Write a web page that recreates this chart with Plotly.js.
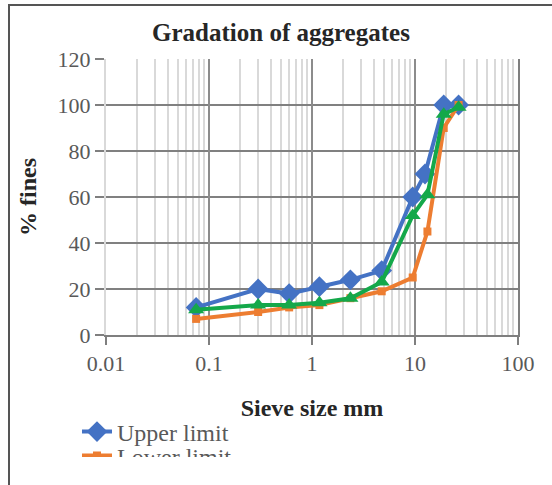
<!DOCTYPE html>
<html>
<head>
<meta charset="utf-8">
<script src="https://cdn.plot.ly/plotly-3.0.1.min.js"></script>
<style>
  html, body { margin: 0; padding: 0; background: #fff; }
  #chart { position: absolute; left: 0; top: 0; width: 552px; height: 485px; }
  #cover { position: absolute; left: 0; top: 457px; width: 552px; height: 28px; background: #fff; z-index: 4; }
  #frame { position: absolute; left: 8px; top: 4px; width: 560px; height: 479px;
           border-left: 2px solid #555; border-top: 2px solid #555; pointer-events: none; z-index: 5; }
</style>
</head>
<body>
<div id="chart"></div>
<div id="cover"></div>
<div id="frame"></div>
<script>
// Sieve sizes (mm)
const sieveUpper = [0.075, 0.3, 0.6, 1.18, 2.36, 4.75, 9.5, 12.5, 19, 26.5];
const sieveOther = [0.075, 0.3, 0.6, 1.18, 2.36, 4.75, 9.5, 13.2, 19, 26.5];
// % passing
const upperLimit = [12, 20, 18, 21, 24, 28, 60, 70, 100, 100];
const lowerLimit = [7, 10, 12, 13, 16, 19, 25, 45, 90, 100];
const combined   = [11, 13, 13, 14, 16, 23, 52, 61, 96, 99];
const seriesNames = ["Upper limit", "Lower limit", "Combined grading"];
// Axis ticks
const xTickVals = [0.01, 0.1, 1, 10, 100];
const xTickText = ["0.01", "0.1", "1", "10", "100"];
const xDecadeGrid = [0.1, 1, 10, 100];
const xMinorVals = [0.02,0.03,0.04,0.05,0.06,0.07,0.08,0.09,
                    0.2,0.3,0.4,0.5,0.6,0.7,0.8,0.9,
                    2,3,4,5,6,7,8,9,
                    20,30,40,50,60,70,80,90];
const yTickVals = [0, 20, 40, 60, 80, 100, 120];

const serif = "Liberation Serif, Times New Roman, serif";

const traces = [
  { x: sieveUpper, y: upperLimit, name: seriesNames[0], type: "scatter", mode: "lines+markers",
    legend: "legend",
    line: { color: "#4472C4", width: 4 }, marker: { symbol: "diamond", size: 16, color: "#4472C4" } },
  { x: sieveOther, y: lowerLimit, name: seriesNames[1], type: "scatter", mode: "lines+markers",
    legend: "legend2",
    line: { color: "#ED7D31", width: 4 }, marker: { symbol: "square", size: 8, color: "#ED7D31" } },
  { x: sieveOther, y: combined, name: seriesNames[2], type: "scatter", mode: "lines+markers",
    showlegend: false,
    line: { color: "#14A84A", width: 4 }, marker: { symbol: "triangle-up", size: 14, color: "#14A84A" } }
];

const legFont = { family: serif, size: 24, color: "#595959" };
const legBase = { xanchor: "left", yanchor: "middle", orientation: "v", font: legFont,
                  bgcolor: "rgba(0,0,0,0)", itemwidth: 30 };

const layout = {
  width: 552, height: 485,
  margin: { l: 106, r: 34, t: 59, b: 150, autoexpand: false },
  paper_bgcolor: "#fff", plot_bgcolor: "#fff",
  font: { family: serif, size: 22, color: "#595959" },
  title: { text: "<b>Gradation of aggregates</b>", x: 0.509, xanchor: "center", y: 0.934, yanchor: "middle",
           font: { family: serif, size: 25, color: "#262626" } },
  showlegend: true,
  legend:  Object.assign({}, legBase, { x: -0.0704, y: -0.3514 }),
  legend2: Object.assign({}, legBase, { x: -0.0704, y: -0.438 }),
  xaxis: {
    type: "log", range: [-2, 2], tickmode: "array", tickvals: xTickVals, ticktext: xTickText,
    showgrid: true, gridcolor: "#d9d9d9", gridwidth: 2,
    ticks: "outside", ticklen: 8, tickwidth: 2, tickcolor: "#7f7f7f",
    showline: true, linecolor: "#7f7f7f", linewidth: 2, zeroline: false,
    minor: { tickmode: "array", tickvals: xMinorVals, showgrid: true, gridcolor: "#d9d9d9", gridwidth: 2, ticks: "" },
    tickfont: { family: serif, size: 22, color: "#595959" },
    title: { text: "<b>Sieve size mm</b>", font: { family: serif, size: 24, color: "#262626" }, standoff: 24 },
    automargin: false
  },
  xaxis2: {
    type: "log", range: [-2, 2], overlaying: "x", tickmode: "array", tickvals: xDecadeGrid,
    showticklabels: false, showgrid: true, gridcolor: "#8c8c8c", gridwidth: 2, ticks: "", zeroline: false
  },
  yaxis: {
    range: [0, 120], tickmode: "array", tickvals: yTickVals,
    showgrid: true, gridcolor: "#808080", gridwidth: 2,
    ticks: "outside", ticklen: 9, tickwidth: 2, tickcolor: "#7f7f7f",
    showline: true, linecolor: "#d9d9d9", linewidth: 2, zeroline: false,
    tickfont: { family: serif, size: 22, color: "#595959" },
    title: { text: "<b>% fines</b>", font: { family: serif, size: 24, color: "#262626" }, standoff: 14 },
    automargin: false
  },
  yaxis2: {
    range: [0, 120], overlaying: "y", side: "right", showticklabels: false, showgrid: false,
    showline: true, linecolor: "#7f7f7f", linewidth: 2, ticks: "", zeroline: false
  }
};

// invisible helper trace to activate the overlay axes
traces.push({ x: [0.01], y: [0], xaxis: "x2", yaxis: "y2", type: "scatter", mode: "markers",
              marker: { opacity: 0 }, showlegend: false, hoverinfo: "skip" });

Plotly.newPlot("chart", traces, layout, { displayModeBar: false, staticPlot: true });
</script>
</body>
</html>
